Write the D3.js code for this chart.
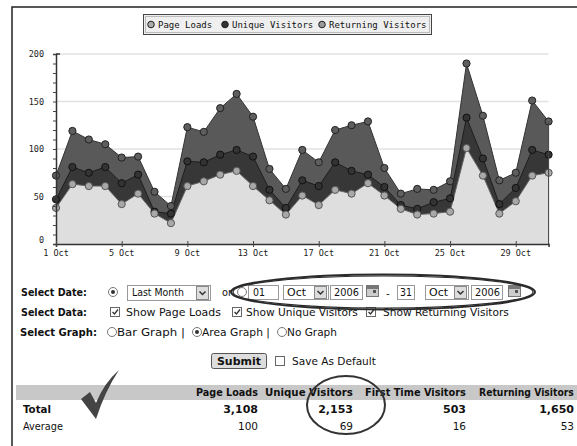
<!DOCTYPE html>
<html><head><meta charset="utf-8">
<script src="https://cdn.jsdelivr.net/npm/d3@7"></script>
<style>
html,body{margin:0;padding:0;background:#fff;}
svg{display:block;}
</style></head>
<body>
<svg id="c" width="577" height="446"></svg>
<script>
// ---------- data ----------
const days = d3.range(1, 32);
const pageLoads = [72,119,110,105,91,92,55,40,123,118,143,158,134,79,58,99,86,120,125,129,80,53,58,57,66,190,135,67,75,151,129];
const uniqueVisitors = [47,81,75,81,64,73,34,32,87,86,94,99,92,57,38,67,61,86,77,73,60,41,37,44,48,133,90,42,59,99,94];
const returningVisitors = [38,63,61,61,42,53,32,22,61,66,73,77,61,46,31,51,41,57,53,64,51,37,31,32,34,101,72,32,45,72,75];
const seriesNames = ["Page Loads","Unique Visitors","Returning Visitors"];
const xTickDays = [1,5,9,13,17,21,25,29];
const yTicks = [0,50,100,150,200];
const tableHeaders = ["Page Loads","Unique Visitors","First Time Visitors","Returning Visitors"];
const totals = ["3,108","2,153","503","1,650"];
const averages = ["100","69","16","53"];

const svg = d3.select("#c");
const x = d3.scaleLinear().domain([1,31]).range([56,548.6]);
const y = d3.scaleLinear().domain([0,200]).range([244,54]);

const FORM = "'DejaVu Sans', Verdana, sans-serif";
const MONO = "'DejaVu Sans Mono', monospace";

function txt(g, s, tx, ty, opts={}) {
  const t = g.append("text").text(s)
    .attr("font-family", opts.font || FORM)
    .attr("font-size", opts.size || 11)
    .attr("fill", opts.fill || "#111");
  if (opts.bold) t.attr("font-weight","bold");
  if (opts.anchor) t.attr("text-anchor", opts.anchor);
  if (opts.w) {
    t.attr("x",0).attr("y",0);
    const nat = t.node().getComputedTextLength() || opts.w;
    t.attr("transform", `translate(${tx},${ty}) scale(${opts.w/nat},1)`);
  } else {
    t.attr("x", tx).attr("y", ty);
  }
  return t;
}

// frame
svg.append("path").attr("d","M12,446 L12,7 L577,7").attr("fill","none").attr("stroke","#222").attr("stroke-width",1.5);

// ---------- chart ----------
const chart = svg.append("g");
chart.selectAll("line.grid").data(yTicks.filter(v=>v>0)).join("line")
  .attr("x1",57).attr("x2",548.6).attr("y1",d=>y(d)).attr("y2",d=>y(d))
  .attr("stroke","#e2e2e2").attr("stroke-width",1.5);

const area = vals => d3.area().x((d,i)=>x(days[i])).y0(y(0)).y1(d=>y(d))(vals);
const line = vals => d3.line().x((d,i)=>x(days[i])).y(d=>y(d))(vals);

const layers = [
  {vals: pageLoads, fill:"#595959", stroke:"#333", mfill:"#5e5e5e", mstroke:"#222"},
  {vals: uniqueVisitors, fill:"#373737", stroke:"#1e1e1e", mfill:"#333", mstroke:"#111"},
  {vals: returningVisitors, fill:"#dedede", stroke:"#666", mfill:"#a8a8a8", mstroke:"#555"}
];
layers.forEach(L=>{
  chart.append("path").attr("d", area(L.vals)).attr("fill", L.fill);
});
layers.forEach(L=>{
  chart.append("path").attr("d", line(L.vals)).attr("fill","none").attr("stroke",L.stroke).attr("stroke-width",1);
});
layers.forEach(L=>{
  chart.append("g").selectAll("circle").data(L.vals).join("circle")
    .attr("cx",(d,i)=>x(days[i])).attr("cy",d=>y(d)).attr("r",3.6)
    .attr("fill",L.mfill).attr("stroke",L.mstroke).attr("stroke-width",1);
});
chart.append("line").attr("x1",x(31)).attr("x2",x(31)).attr("y1",y(0)).attr("y2",y(pageLoads[30])).attr("stroke","#444").attr("stroke-width",1);

// y axis
const yAxis = d3.axisLeft(y).tickValues(d3.range(0,201,10)).tickSize(3).tickFormat("");
const yg = chart.append("g").attr("transform","translate(56,0)").call(yAxis);
yg.select(".domain").attr("stroke","#333").attr("stroke-width",1.5);
yg.selectAll(".tick line").attr("stroke","#444");
chart.append("line").attr("x1",56).attr("x2",60).attr("y1",y(200)).attr("y2",y(200)).attr("stroke","#333").attr("stroke-width",1.5);
yTicks.forEach(v=>{
  txt(chart, String(v), 44, (v===0 ? y(v)-1 : y(v)+3), {font:MONO, size:8.5, anchor:"end", fill:"#222"});
});
// x axis
const xAxis = d3.axisBottom(x).tickValues(xTickDays).tickSize(3).tickFormat("");
const xg = chart.append("g").attr("transform","translate(0,244)").call(xAxis);
xg.select(".domain").attr("stroke","#333").attr("stroke-width",1.5);
xg.selectAll(".tick line").attr("stroke","#444").attr("y1",-3);
xTickDays.forEach(dd=>{
  txt(chart, dd+" Oct", x(dd), 256, {font:MONO, size:8.5, anchor:"middle", fill:"#222"});
});

// legend
const lg = svg.append("g");
lg.append("rect").attr("x",143.5).attr("y",14.5).attr("width",288).attr("height",20).attr("fill","#efefef").attr("stroke","#444");
lg.append("rect").attr("x",145.5).attr("y",16.5).attr("width",284).attr("height",16).attr("fill","none").attr("stroke","#bbb");
const legX = [151, 225, 322];
const legFill = ["#aaa","#333","#999"];
seriesNames.forEach((n,i)=>{
  lg.append("circle").attr("cx",legX[i]).attr("cy",24.5).attr("r",3.3).attr("fill",legFill[i]).attr("stroke","#222");
  txt(lg, n, legX[i]+7, 28, {font:MONO, size:9, fill:"#111"});
});

// ---------- form ----------
const f = svg.append("g");
function radio(cx, cy, on){
  f.append("circle").attr("cx",cx).attr("cy",cy).attr("r",4.5).attr("fill","#fff").attr("stroke","#777");
  if(on) f.append("circle").attr("cx",cx).attr("cy",cy).attr("r",2).attr("fill","#333");
}
function checkbox(bx, by, on){
  f.append("rect").attr("x",bx+0.5).attr("y",by+0.5).attr("width",9).attr("height",9).attr("fill","#fff").attr("stroke","#666");
  if(on) f.append("path").attr("d",`M${bx+2.5},${by+5} L${bx+4.5},${by+7} L${bx+8},${by+2.5}`).attr("fill","none").attr("stroke","#333").attr("stroke-width",1.3);
}
function box(bx, by, w, h){
  f.append("rect").attr("x",bx+0.5).attr("y",by+0.5).attr("width",w).attr("height",h).attr("fill","#fff").attr("stroke","#999");
}
function selectBox(bx, by, w, h){
  box(bx,by,w,h);
  f.append("rect").attr("x",bx+w-13.5).attr("y",by+1.5).attr("width",12).attr("height",h-2).attr("fill","#ddd").attr("stroke","#888");
  const cx = bx+w-7.5, cy = by+h/2+0.5;
  f.append("path").attr("d",`M${cx-3},${cy-1.5} L${cx},${cy+1.5} L${cx+3},${cy-1.5}`).attr("fill","none").attr("stroke","#333").attr("stroke-width",1.5);
}
function calendar(bx, by){
  f.append("rect").attr("x",bx+0.5).attr("y",by+0.5).attr("width",12).attr("height",11).attr("fill","#ccc").attr("stroke","#777");
  f.append("rect").attr("x",bx+1).attr("y",by+1).attr("width",11).attr("height",3).attr("fill","#777");
  f.append("rect").attr("x",bx+7).attr("y",by+5).attr("width",3).attr("height",3).attr("fill","#555");
}

// Row 1
txt(f,"Select Date:",21,296,{bold:true,w:66});
radio(113,292,true);
selectBox(127,285,83,15);
txt(f,"Last Month",132,296,{size:10,w:52});
txt(f,"or",222,296,{size:10,w:10});
radio(242,292,false);
box(248,285,30,14); txt(f,"01",253,296,{size:10,w:12});
selectBox(283,285,45,14); txt(f,"Oct",287,296,{size:10,w:19});
box(330,285,32,14); txt(f,"2006",334,296,{size:10,w:25});
calendar(366,285);
txt(f,"-",386,297,{size:10});
box(397,285,17,14); txt(f,"31",400,296,{size:10,w:12});
selectBox(425,285,43,14); txt(f,"Oct",429,296,{size:10,w:19});
box(471,285,31,14); txt(f,"2006",475,296,{size:10,w:25});
calendar(508,285);

// Row 2
txt(f,"Select Data:",21,316,{bold:true,w:66});
checkbox(110,307,true); txt(f,"Show Page Loads",126,316,{w:95});
checkbox(232,307,true); txt(f,"Show Unique Visitors",246,316,{w:112});
checkbox(366,307,true); txt(f,"Show Returning Visitors",383,316,{w:126});

// Row 3
txt(f,"Select Graph:",20,336,{bold:true,w:77});
radio(112,332,false); txt(f,"Bar Graph |",117,336,{w:68});
radio(197,332,true); txt(f,"Area Graph |",202,336,{w:68});
radio(282,332,false); txt(f,"No Graph",287,336,{w:50});

// Ellipse highlight
f.append("ellipse").attr("cx",383).attr("cy",292).attr("rx",152).attr("ry",17.5).attr("fill","none").attr("stroke","#2a2a2a").attr("stroke-width",2);
f.append("ellipse").attr("cx",383).attr("cy",292).attr("rx",150).attr("ry",16).attr("fill","none").attr("stroke","#2a2a2a").attr("stroke-width",1.2);

// Submit
f.append("rect").attr("x",211.5).attr("y",353.5).attr("width",55).attr("height",15).attr("rx",2).attr("fill","#ddd").attr("stroke","#555");
txt(f,"Submit",239,365,{bold:true,anchor:"middle",size:11});
checkbox(275,356,false);
txt(f,"Save As Default",292,365,{w:84});

// ---------- table ----------
const tb = svg.append("g");
tb.append("rect").attr("x",16).attr("y",385).attr("width",561).attr("height",15).attr("fill","#c8c8c8");
const colRight = [258,353,466,574];
const hdrW = [62,88,101,95];
tableHeaders.forEach((h,i)=>txt(tb,h,colRight[i]-hdrW[i],396,{bold:true,w:hdrW[i]}));
txt(tb,"Total",23,413,{bold:true,w:28});
txt(tb,"Average",23,430,{w:40,size:10.5});
totals.forEach((v,i)=>txt(tb,v,colRight[i],413,{bold:true,anchor:"end"}));
averages.forEach((v,i)=>txt(tb,v,colRight[i],430,{anchor:"end",size:10.5}));

// check mark
tb.append("path").attr("d","M81,399 L90,392 L96,403 Q104,383 119,370 Q105,391 96,419 Z").attr("fill","#444");
// circle around unique visitors
tb.append("ellipse").attr("cx",346).attr("cy",405).attr("rx",39).attr("ry",29).attr("fill","none").attr("stroke","#333").attr("stroke-width",2);
</script>
</body></html>
